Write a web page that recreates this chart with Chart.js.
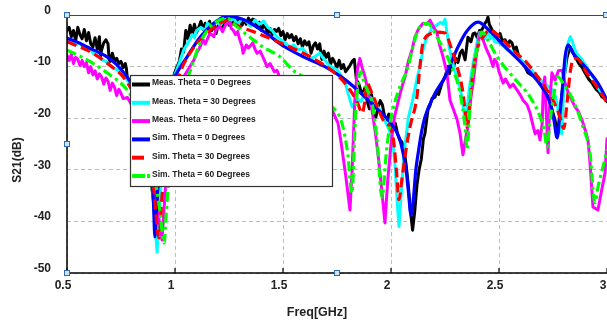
<!DOCTYPE html>
<html><head><meta charset="utf-8">
<script src="https://cdn.jsdelivr.net/npm/chart.js@4.4.1/dist/chart.umd.min.js"></script>
<style>html,body{margin:0;padding:0;background:#fff;}#wrap{width:607px;height:326px;}</style>
</head><body><div id="wrap"><canvas id="c" width="607" height="326"></canvas></div>
<script>
const seriesNames = ['Meas. Theta = 0 Degrees','Meas. Theta = 30 Degrees','Meas. Theta = 60 Degrees','Sim. Theta = 0 Degrees','Sim. Theta = 30 Degrees','Sim. Theta = 60 Degrees'];
const xTickLabels = ['0.5','1','1.5','2','2.5','3'];
const yTickLabels = ['0','-10','-20','-30','-40','-50'];
const xTitle = 'Freq[GHz]';
const yTitle = 'S21(dB)';

// [frequency GHz, S21 dB]
const meas0 = [[0.50,-3.0],[0.51,-2.4],[0.52,-4.2],[0.53,-3.0],[0.54,-5.0],[0.55,-2.4],[0.56,-3.8],[0.57,-4.6],[0.58,-2.8],[0.59,-5.0],[0.60,-3.4],[0.61,-5.6],[0.62,-6.2],[0.63,-4.4],[0.64,-6.6],[0.65,-4.2],[0.655,-8.0],[0.66,-6.8],[0.67,-5.4],[0.68,-4.8],[0.69,-5.6],[0.695,-8.6],[0.70,-9.0],[0.71,-7.4],[0.72,-9.0],[0.73,-8.4],[0.74,-9.4],[0.75,-9.0],[0.76,-10.2],[0.77,-9.4],[0.775,-10.4],[0.78,-12.6],[0.79,-12.8],[0.80,-13.6],[0.82,-16],[0.84,-19],[0.86,-23],[0.88,-29],[0.90,-36],[0.91,-41],[0.92,-37],[0.94,-28],[0.96,-20],[0.98,-14],[1.00,-11],[1.02,-9.0],[1.03,-6.6],[1.04,-7.2],[1.05,-3.0],[1.06,-4.6],[1.07,-2.0],[1.08,-3.8],[1.09,-1.8],[1.10,-3.4],[1.11,-2.4],[1.12,-1.2],[1.13,-2.8],[1.14,-1.6],[1.15,-2.4],[1.16,-1.2],[1.17,-3.0],[1.18,-1.6],[1.19,-3.6],[1.20,-2.0],[1.21,-1.2],[1.22,-2.6],[1.23,-1.4],[1.24,-0.8],[1.25,-2.0],[1.26,-0.6],[1.27,-1.8],[1.28,-0.5],[1.29,-1.6],[1.30,-0.8],[1.31,-2.0],[1.32,-1.0],[1.33,-1.8],[1.34,-0.6],[1.35,-1.4],[1.36,-0.8],[1.37,-1.0],[1.38,-2.4],[1.39,-1.4],[1.40,-3.0],[1.41,-2.0],[1.42,-2.4],[1.43,-3.6],[1.44,-2.6],[1.45,-3.8],[1.46,-2.8],[1.47,-3.2],[1.48,-2.6],[1.49,-4.0],[1.50,-3.2],[1.51,-4.8],[1.52,-3.6],[1.53,-4.4],[1.54,-3.8],[1.55,-5.0],[1.56,-4.2],[1.57,-5.6],[1.58,-4.6],[1.59,-6.2],[1.60,-5.0],[1.61,-5.8],[1.62,-5.2],[1.63,-7.4],[1.64,-6.0],[1.65,-5.4],[1.66,-6.6],[1.67,-5.6],[1.68,-8.6],[1.69,-7.0],[1.70,-8.2],[1.71,-7.4],[1.72,-9.6],[1.73,-8.4],[1.74,-9.2],[1.75,-10.2],[1.76,-8.8],[1.77,-10.4],[1.78,-9.6],[1.79,-11.0],[1.80,-10.4],[1.81,-9.8],[1.82,-9.0],[1.83,-8.6],[1.84,-12.6],[1.85,-13.2],[1.86,-14.6],[1.87,-15.2],[1.88,-14.0],[1.89,-16.8],[1.90,-18.2],[1.91,-15.4],[1.92,-19.0],[1.93,-19.8],[1.94,-18.0],[1.95,-16.6],[1.96,-17.4],[1.97,-19.6],[1.98,-20.4],[1.99,-19.2],[2.00,-21.0],[2.01,-21.8],[2.02,-21.0],[2.03,-23.0],[2.04,-24.2],[2.05,-24.6],[2.06,-26.0],[2.07,-29.0],[2.08,-33.0],[2.09,-38.0],[2.10,-41.7],[2.11,-38.0],[2.12,-33.0],[2.13,-30.0],[2.14,-28.0],[2.15,-24.0],[2.157,-23.0],[2.171,-18.4],[2.18,-17.6],[2.19,-16.2],[2.204,-15.9],[2.21,-14.8],[2.22,-15.4],[2.236,-13.2],[2.25,-12.0],[2.264,-10.0],[2.27,-11.4],[2.28,-9.8],[2.29,-10.0],[2.30,-8.4],[2.31,-9.2],[2.32,-7.4],[2.33,-6.8],[2.343,-8.7],[2.356,-4.3],[2.37,-5.2],[2.38,-3.6],[2.389,-3.5],[2.40,-4.4],[2.41,-3.0],[2.421,-2.9],[2.43,-2.0],[2.444,-1.0],[2.449,-0.4],[2.455,-1.8],[2.468,-2.9],[2.48,-3.4],[2.495,-4.3],[2.505,-3.6],[2.515,-5.0],[2.528,-4.8],[2.54,-5.8],[2.55,-5.0],[2.56,-5.4],[2.57,-6.8],[2.58,-6.2],[2.59,-7.8],[2.606,-9.3],[2.62,-10.0],[2.634,-11.2],[2.65,-11.6],[2.667,-12.0],[2.68,-12.6],[2.699,-13.2],[2.71,-14.2],[2.727,-15.9],[2.74,-17.6],[2.759,-20.3],[2.773,-23.0],[2.782,-19.0],[2.792,-15.0],[2.806,-10.7],[2.815,-8.2],[2.829,-6.2],[2.84,-7.0],[2.852,-8.1],[2.87,-9.4],[2.885,-10.2],[2.898,-11.2],[2.915,-12.4],[2.931,-13.2],[2.95,-14.4],[2.965,-15.0],[2.977,-15.9],[2.99,-16.2],[3.00,-16.8]];

const meas30 = [[0.50,-4.8],[0.52,-5.0],[0.54,-5.8],[0.56,-5.4],[0.58,-6.6],[0.60,-6.2],[0.62,-7.4],[0.64,-7.8],[0.66,-8.6],[0.68,-9.0],[0.70,-9.8],[0.72,-10.4],[0.74,-10.8],[0.76,-11.8],[0.78,-12.6],[0.80,-14],[0.83,-17],[0.86,-22],[0.88,-28],[0.90,-36],[0.917,-46],[0.93,-36],[0.95,-24],[0.98,-15],[1.00,-11.5],[1.02,-9.3],[1.04,-6.8],[1.06,-5.4],[1.08,-3.8],[1.09,-4.4],[1.10,-3.0],[1.12,-2.4],[1.14,-3.0],[1.15,-1.6],[1.17,-2.2],[1.19,-1.2],[1.21,-2.0],[1.23,-0.8],[1.25,-1.4],[1.27,-0.6],[1.29,-1.8],[1.31,-0.8],[1.33,-1.2],[1.35,-2.2],[1.37,-1.0],[1.39,-1.8],[1.41,-1.2],[1.43,-2.4],[1.45,-3.0],[1.47,-4.2],[1.49,-4.8],[1.51,-5.4],[1.53,-6.2],[1.55,-5.8],[1.57,-6.8],[1.59,-6.4],[1.61,-7.6],[1.63,-8.4],[1.65,-8.0],[1.67,-7.4],[1.69,-8.6],[1.71,-9.6],[1.73,-10.2],[1.75,-10.6],[1.77,-11.8],[1.79,-13.4],[1.80,-15.0],[1.81,-16.4],[1.82,-17.8],[1.83,-17.2],[1.84,-16.2],[1.86,-16.8],[1.88,-15.0],[1.89,-15.6],[1.91,-16.2],[1.93,-17.0],[1.95,-18.6],[1.97,-20.4],[1.99,-22.0],[2.01,-25.0],[2.02,-30],[2.03,-37],[2.037,-41],[2.045,-36],[2.06,-27],[2.08,-20],[2.10,-16.5],[2.12,-12.4],[2.134,-10],[2.148,-6.8],[2.16,-5.0],[2.18,-3.4],[2.19,-2.4],[2.21,-2.0],[2.23,-1.4],[2.24,-1.8],[2.25,-0.8],[2.255,-2.2],[2.26,-3.6],[2.27,-6.4],[2.29,-10],[2.31,-12.6],[2.32,-14.2],[2.33,-16.4],[2.343,-20.3],[2.355,-17],[2.366,-13.2],[2.38,-9.4],[2.398,-5.4],[2.41,-3.4],[2.42,-4.0],[2.43,-4.8],[2.44,-4.2],[2.45,-3.2],[2.46,-4.6],[2.47,-4.0],[2.48,-5.2],[2.50,-5.4],[2.52,-6.0],[2.54,-6.8],[2.56,-7.0],[2.58,-8.2],[2.60,-8.6],[2.62,-9.4],[2.64,-10.0],[2.66,-11.2],[2.68,-12.0],[2.70,-13.0],[2.72,-13.6],[2.74,-14.2],[2.76,-15.6],[2.77,-17.4],[2.78,-20.3],[2.79,-23],[2.80,-14],[2.81,-8],[2.82,-5.4],[2.83,-4.2],[2.84,-5.2],[2.85,-6.6],[2.86,-7.4],[2.88,-8.4],[2.90,-9.6],[2.92,-11.0],[2.94,-12.4],[2.96,-14.2],[2.98,-15.4],[3.00,-16.5]];

const meas60 = [[0.50,-7.8],[0.51,-8.8],[0.52,-7.6],[0.53,-9.4],[0.54,-8.2],[0.55,-8.6],[0.56,-9.8],[0.57,-8.8],[0.58,-10.0],[0.59,-9.2],[0.60,-11.2],[0.61,-10.0],[0.62,-11.6],[0.63,-10.8],[0.64,-12.4],[0.65,-11.4],[0.66,-12.0],[0.67,-13.4],[0.68,-12.2],[0.69,-12.8],[0.70,-14.6],[0.71,-13.2],[0.72,-14.0],[0.73,-15.6],[0.74,-14.4],[0.75,-15.2],[0.76,-16.2],[0.78,-16.0],[0.80,-17.5],[0.83,-20],[0.86,-24],[0.89,-30],[0.92,-38],[0.94,-43.6],[0.955,-34],[0.97,-24],[1.00,-17],[1.04,-12],[1.088,-8.7],[1.10,-7.4],[1.116,-6.2],[1.13,-4.8],[1.14,-5.6],[1.162,-3.5],[1.18,-4.2],[1.19,-2.8],[1.208,-2.3],[1.22,-3.2],[1.235,-1.8],[1.255,-1.4],[1.26,-2.6],[1.269,-2.9],[1.28,-3.8],[1.29,-3.2],[1.30,-4.8],[1.31,-6.0],[1.315,-7.4],[1.33,-5.8],[1.34,-6.4],[1.36,-5.4],[1.37,-6.6],[1.38,-7.4],[1.394,-7.0],[1.41,-8.4],[1.426,-10],[1.44,-9.4],[1.46,-11.0],[1.472,-10.7],[1.49,-12.6],[1.50,-13.2],[1.52,-15.0],[1.532,-15.9],[1.55,-15.0],[1.57,-16.0],[1.59,-15.2],[1.616,-15.0],[1.64,-16.2],[1.662,-16.5],[1.68,-17.2],[1.70,-17.8],[1.727,-18.4],[1.74,-19.6],[1.755,-21],[1.77,-25],[1.79,-31],[1.81,-37.8],[1.82,-30],[1.833,-16],[1.845,-10.4],[1.856,-8.4],[1.865,-10.0],[1.88,-12],[1.894,-15],[1.912,-18.4],[1.926,-22.3],[1.94,-27],[1.955,-33],[1.972,-40.3],[1.985,-32],[2.00,-25],[2.015,-20],[2.032,-17],[2.05,-14],[2.065,-12],[2.08,-9],[2.097,-6.8],[2.11,-4.4],[2.125,-2.9],[2.148,-1.6],[2.165,-1.8],[2.181,-1.0],[2.195,-2.2],[2.213,-3.5],[2.225,-5.8],[2.241,-8.1],[2.259,-11.2],[2.273,-16.5],[2.29,-18.4],[2.306,-20.3],[2.32,-23],[2.333,-27.1],[2.345,-24],[2.356,-21.7],[2.37,-16],[2.38,-13.2],[2.398,-6.8],[2.412,-3.5],[2.426,-4.8],[2.44,-6.4],[2.458,-8.1],[2.472,-10],[2.48,-8.6],[2.491,-9.3],[2.50,-11.0],[2.519,-13.2],[2.53,-12.4],[2.551,-14],[2.565,-13.4],[2.583,-14.5],[2.60,-15.6],[2.611,-16.5],[2.63,-17.4],[2.644,-19],[2.655,-21],[2.667,-23],[2.68,-22.4],[2.69,-24.2],[2.70,-21],[2.705,-14],[2.712,-12],[2.72,-20],[2.727,-26.7],[2.735,-17],[2.745,-11.2],[2.76,-12.6],[2.775,-10.8],[2.792,-10.7],[2.805,-13],[2.82,-15],[2.838,-16.6],[2.852,-17.8],[2.866,-18.6],[2.884,-20.3],[2.90,-22.4],[2.912,-24.2],[2.922,-29],[2.935,-37.2],[2.958,-37.8],[2.975,-34],[2.991,-30.6],[3.00,-24]];

const sim0 = [[0.50,-4.5],[0.55,-5.3],[0.593,-6.2],[0.64,-7.1],[0.685,-8.1],[0.73,-9.6],[0.778,-12],[0.81,-14.2],[0.84,-17.5],[0.87,-23],[0.89,-30],[0.90,-36],[0.907,-43],[0.915,-37],[0.925,-30],[0.94,-22],[0.96,-16.5],[0.98,-13.5],[1.009,-11.2],[1.056,-8.1],[1.116,-4.3],[1.18,-1.6],[1.241,-0.2],[1.324,-1],[1.41,-3.2],[1.509,-6.2],[1.60,-8.2],[1.694,-10],[1.77,-12],[1.833,-14.1],[1.926,-17.8],[2.005,-21.3],[2.04,-24],[2.056,-26.8],[2.07,-30],[2.08,-34],[2.093,-38.8],[2.105,-35],[2.115,-30],[2.125,-27],[2.14,-23],[2.157,-19.8],[2.20,-15.5],[2.25,-12],[2.31,-6.2],[2.35,-3.2],[2.403,-1.4],[2.45,-2.8],[2.528,-6.2],[2.62,-10],[2.713,-14.9],[2.74,-17.5],[2.755,-20.5],[2.769,-23.8],[2.78,-20],[2.792,-15],[2.806,-8.1],[2.82,-5.8],[2.843,-7.4],[2.898,-10],[2.958,-13.2],[3.00,-16.5]];

const sim30 = [[0.50,-5.2],[0.593,-6.8],[0.685,-9.3],[0.778,-13],[0.83,-17.5],[0.87,-24],[0.90,-33],[0.926,-43.2],[0.94,-35],[0.96,-25],[0.99,-16],[1.023,-11.2],[1.088,-6.2],[1.148,-3.5],[1.20,-1.8],[1.25,-1.0],[1.269,-1.6],[1.38,-3.5],[1.532,-6.2],[1.639,-8.4],[1.75,-11.6],[1.81,-14.5],[1.845,-17],[1.866,-19],[1.878,-17],[1.889,-13.2],[1.91,-15],[1.935,-17.5],[1.963,-20.3],[2.009,-23.6],[2.025,-30],[2.037,-35.8],[2.05,-32],[2.07,-26],[2.088,-21.7],[2.12,-15.9],[2.134,-10],[2.148,-5.4],[2.194,-3.5],[2.213,-3.3],[2.25,-3.5],[2.282,-6.8],[2.306,-10],[2.329,-14],[2.343,-18.4],[2.352,-21.7],[2.365,-17],[2.38,-11],[2.40,-6.5],[2.426,-4.3],[2.458,-2.9],[2.505,-4.3],[2.565,-6.8],[2.63,-9.3],[2.69,-12.6],[2.75,-16.5],[2.78,-19.5],[2.80,-22],[2.815,-17],[2.83,-11],[2.845,-8.5],[2.86,-8.4],[2.907,-11.3],[2.954,-14],[3.00,-17]];

const sim60 = [[0.50,-6.8],[0.593,-8.7],[0.685,-11.2],[0.778,-14.5],[0.83,-18.5],[0.87,-24],[0.90,-30],[0.93,-38],[0.949,-44.2],[0.96,-38],[0.98,-27],[1.01,-18],[1.04,-14],[1.069,-11],[1.116,-5.4],[1.162,-2.3],[1.18,-1.6],[1.241,-0.6],[1.287,-2.3],[1.347,-4.3],[1.407,-6.2],[1.486,-8.1],[1.546,-10.7],[1.616,-12.6],[1.708,-17],[1.773,-21],[1.80,-27],[1.819,-34.5],[1.835,-20],[1.85,-12.5],[1.86,-11],[1.875,-13],[1.895,-15],[1.912,-17],[1.935,-24],[1.958,-35.3],[1.98,-26],[2.00,-20],[2.032,-15],[2.079,-10],[2.10,-6.5],[2.125,-2.9],[2.167,-1.6],[2.213,-4.3],[2.273,-9.3],[2.319,-15],[2.343,-21.7],[2.352,-26],[2.36,-22],[2.366,-16.5],[2.38,-11],[2.398,-6.8],[2.421,-3.3],[2.45,-5],[2.491,-8.1],[2.565,-12],[2.644,-15.9],[2.69,-19.7],[2.71,-22.5],[2.722,-25.6],[2.735,-21],[2.75,-16.5],[2.773,-12],[2.80,-13.5],[2.843,-16.5],[2.889,-21.7],[2.921,-26.7],[2.944,-36.4],[2.96,-33],[2.99,-28],[3.00,-26]];

const seriesData = [meas0, meas30, meas60, sim0, sim30, sim60];
const colors = ['#000000','#00ffff','#ff00ff','#0000ff','#ff0000','#00ff00'];
const dashes = [[],[],[],[],[10,5],[10,4,3,4]];
const drawOrder = [5,4,3,2,1,0];

const toPts = arr => arr.map(p => ({x: p[0], y: p[1]}));

const datasets = seriesData.map((d, i) => ({
  label: seriesNames[i],
  data: toPts(d),
  borderColor: colors[i],
  backgroundColor: colors[i],
  borderWidth: i < 3 ? 3 : 3.2,
  borderDash: dashes[i],
  pointRadius: 0,
  fill: false,
  tension: 0,
  cubicInterpolationMode: i < 3 ? 'default' : 'monotone',
  order: drawOrder[i],
  borderJoinStyle: 'round',
  borderCapStyle: i < 4 ? 'round' : 'butt'
}));

const FONT = '"Liberation Sans", Arial, Helvetica, sans-serif';

const framePlugin = {
  id: 'frame',
  afterDraw(chart) {
    const ctx = chart.ctx;
    const a = chart.chartArea;
    const xs = chart.scales.x;
    ctx.save();
    ctx.setLineDash([]);
    // top border
    ctx.strokeStyle = '#444';
    ctx.lineWidth = 1.2;
    ctx.beginPath(); ctx.moveTo(a.left, a.top + 0.5); ctx.lineTo(a.right, a.top + 0.5); ctx.stroke();
    // left and bottom axes
    ctx.strokeStyle = '#000';
    ctx.lineWidth = 1.5;
    ctx.beginPath(); ctx.moveTo(a.left, a.top); ctx.lineTo(a.left, a.bottom); ctx.lineTo(a.right, a.bottom); ctx.stroke();
    // inward ticks on bottom axis
    ctx.lineWidth = 1.2;
    xTickLabels.forEach(l => {
      const px = xs.getPixelForValue(parseFloat(l));
      ctx.beginPath(); ctx.moveTo(px, a.bottom); ctx.lineTo(px, a.bottom - 5); ctx.stroke();
    });

    // legend box
    const lx = 130, ly = 75, lw = 202, lh = 111;
    ctx.fillStyle = '#fff';
    ctx.fillRect(lx, ly, lw, lh);
    ctx.strokeStyle = '#333';
    ctx.lineWidth = 1.2;
    ctx.strokeRect(lx + 0.5, ly + 0.5, lw, lh);
    ctx.font = 'bold 8.5px ' + FONT;
    ctx.textBaseline = 'middle';
    ctx.textAlign = 'left';
    seriesNames.forEach((name, i) => {
      const ty = 83 + i * 18.3;
      const sy = ty + 1.5;
      ctx.strokeStyle = colors[i];
      ctx.lineWidth = 4;
      ctx.lineCap = 'butt';
      if (i === 4) {
        ctx.setLineDash([]);
        ctx.beginPath(); ctx.moveTo(132, sy); ctx.lineTo(144, sy); ctx.stroke();
      } else if (i === 5) {
        ctx.setLineDash([13, 2, 3, 100]);
        ctx.beginPath(); ctx.moveTo(132, sy); ctx.lineTo(150, sy); ctx.stroke();
      } else {
        ctx.setLineDash([]);
        ctx.beginPath(); ctx.moveTo(132, sy); ctx.lineTo(150, sy); ctx.stroke();
      }
      ctx.setLineDash([]);
      ctx.fillStyle = '#222';
      ctx.fillText(name, 152, ty);
    });

    // axis titles
    ctx.fillStyle = '#222';
    ctx.font = 'bold 12.5px ' + FONT;
    ctx.textAlign = 'center';
    ctx.fillText(xTitle, 317, 313);
    ctx.save();
    ctx.translate(18, 160);
    ctx.rotate(-Math.PI / 2);
    ctx.font = 'bold 12px ' + FONT;
    ctx.fillText(yTitle, 0, 0);
    ctx.restore();

    // selection handles
    const handles = [[a.left, a.top], [a.left, (a.top + a.bottom) / 2], [a.left, a.bottom], [(a.left + a.right) / 2, a.top], [(a.left + a.right) / 2, a.bottom], [a.right - 1, a.top]];
    handles.forEach(h => {
      ctx.fillStyle = '#cfe3f5';
      ctx.fillRect(h[0] - 2, h[1] - 2, 4, 4);
      ctx.strokeStyle = '#2a6db5';
      ctx.lineWidth = 1;
      ctx.strokeRect(h[0] - 2.5, h[1] - 2.5, 5, 5);
    });
    ctx.restore();
  }
};

new Chart(document.getElementById('c'), {
  type: 'line',
  data: { datasets },
  options: {
    responsive: false,
    animation: false,
    events: [],
    layout: { padding: { top: 15, right: 0, left: 0, bottom: 0 } },
    plugins: { legend: { display: false }, tooltip: { enabled: false }, title: { display: false } },
    scales: {
      x: {
        type: 'linear', min: 0.5, max: 3,
        afterFit(s) { s.height = 53; s.paddingLeft = 0; s.paddingRight = 0; },
        ticks: {
          stepSize: 0.5, padding: 5, labelOffset: -4, maxRotation: 0, autoSkip: false,
          color: '#222', font: { family: FONT, size: 12, weight: 'bold' },
          callback: v => { const l = xTickLabels.find(t => Math.abs(parseFloat(t) - v) < 1e-6); return l === undefined ? '' : l; }
        },
        grid: { color: '#bdbdbd', lineWidth: 1, drawTicks: false },
        border: { display: false, dash: [4, 3] },
        title: { display: false }
      },
      y: {
        type: 'linear', min: -50, max: 0,
        afterFit(s) { s.width = 67; s.paddingTop = 0; s.paddingBottom = 0; },
        ticks: {
          stepSize: 10, padding: 16, labelOffset: -4.5,
          color: '#222', font: { family: FONT, size: 12, weight: 'bold' },
          callback: v => { const l = yTickLabels.find(t => Math.abs(parseFloat(t) - v) < 1e-6); return l === undefined ? '' : l; }
        },
        grid: { color: '#bdbdbd', lineWidth: 1, drawTicks: false },
        border: { display: false, dash: [4, 3] },
        title: { display: false }
      }
    }
  },
  plugins: [framePlugin]
});
</script>
</body></html>
